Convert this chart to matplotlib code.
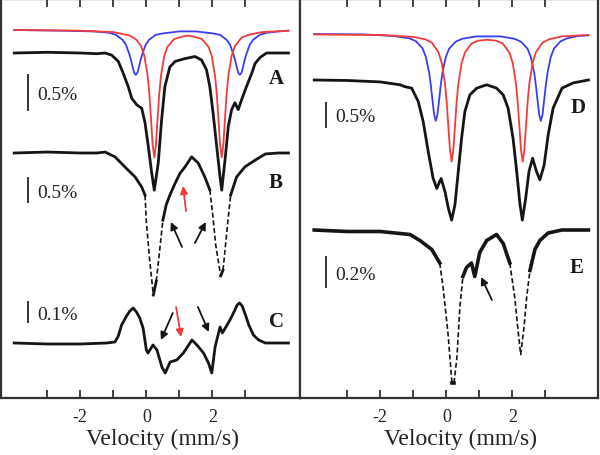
import numpy as np
import matplotlib.pyplot as plt

plt.rcParams['font.family'] = ['Liberation Serif', 'DejaVu Serif']
plt.rcParams['axes.unicode_minus'] = False

# ---- data (absorption in %) ----
# left panel fits
LF_RED_V = [-4.0, -2.0, -1.0, -0.5, -0.3, -0.16, -0.06, 0.04, 0.09, 0.14, 0.19, 0.24, 0.29, 0.34,
            0.39, 0.44, 0.54, 0.64, 0.84, 1.04, 1.26, 1.48, 1.68, 1.88, 1.98, 2.08, 2.13, 2.18,
            2.23, 2.28, 2.33, 2.38, 2.43, 2.48, 2.58, 2.68, 2.88, 3.08, 3.5, 4.3]
LF_RED = [0.0, -0.01, -0.03, -0.08, -0.14, -0.23, -0.37, -0.66, -0.91, -1.26, -1.64, -1.82, -1.64,
          -1.26, -0.91, -0.66, -0.37, -0.24, -0.13, -0.10, -0.08, -0.10, -0.13, -0.24, -0.37,
          -0.66, -0.91, -1.26, -1.64, -1.82, -1.64, -1.26, -0.91, -0.66, -0.37, -0.23, -0.11,
          -0.07, -0.03, -0.01]
LF_BLUE_V = [-4.0, -2.5, -1.6, -1.12, -0.92, -0.72, -0.62, -0.52, -0.47, -0.42, -0.37, -0.32, -0.27,
             -0.22, -0.17, -0.12, -0.02, 0.08, 0.28, 0.48, 1.0, 1.26, 1.5, 2.03, 2.23, 2.43, 2.53,
             2.63, 2.68, 2.73, 2.78, 2.83, 2.88, 2.93, 2.98, 3.03, 3.13, 3.23, 3.43, 3.63, 4.0, 4.3]
LF_BLUE = [0.0, -0.01, -0.02, -0.04, -0.07, -0.14, -0.21, -0.34, -0.42, -0.52, -0.61, -0.64, -0.61,
           -0.52, -0.42, -0.34, -0.21, -0.14, -0.07, -0.05, -0.02, -0.02, -0.02, -0.05, -0.07,
           -0.14, -0.21, -0.34, -0.42, -0.52, -0.61, -0.64, -0.61, -0.52, -0.42, -0.34, -0.21,
           -0.14, -0.07, -0.04, -0.02, -0.01]

# right panel fits
RF_RED_V = [-4.0, -2.0, -1.0, -0.64, -0.44, -0.24, -0.14, -0.04, 0.01, 0.06, 0.11, 0.16, 0.21, 0.26,
            0.31, 0.36, 0.46, 0.56, 0.76, 0.96, 1.235, 1.51, 1.71, 1.91, 2.01, 2.11, 2.16, 2.21,
            2.26, 2.31, 2.36, 2.41, 2.46, 2.51, 2.61, 2.71, 2.91, 3.11, 3.5, 4.3]
RF_RED = [-0.01, -0.02, -0.06, -0.11, -0.18, -0.38, -0.60, -1.04, -1.42, -1.92, -2.42, -2.66, -2.42,
          -1.92, -1.42, -1.05, -0.61, -0.39, -0.20, -0.14, -0.12, -0.14, -0.20, -0.39, -0.61,
          -1.05, -1.42, -1.92, -2.42, -2.66, -2.42, -1.92, -1.42, -1.04, -0.60, -0.38, -0.18,
          -0.11, -0.05, -0.02]
RF_BLUE_V = [-4.0, -2.5, -1.6, -1.12, -0.92, -0.72, -0.62, -0.52, -0.47, -0.42, -0.37, -0.32, -0.27,
             -0.22, -0.17, -0.12, -0.02, 0.08, 0.28, 0.48, 0.9, 1.27, 1.64, 2.06, 2.26, 2.46, 2.56,
             2.66, 2.71, 2.76, 2.81, 2.86, 2.91, 2.96, 3.01, 3.06, 3.16, 3.26, 3.46, 3.66, 4.0, 4.3]
RF_BLUE = [0.0, -0.01, -0.04, -0.09, -0.15, -0.30, -0.48, -0.81, -1.07, -1.38, -1.68, -1.81, -1.68,
           -1.38, -1.07, -0.81, -0.49, -0.31, -0.16, -0.10, -0.05, -0.05, -0.05, -0.10, -0.16,
           -0.31, -0.49, -0.81, -1.07, -1.38, -1.68, -1.81, -1.68, -1.38, -1.07, -0.81, -0.48,
           -0.30, -0.15, -0.09, -0.04, -0.03]

# spectra
A_V = [-4.0, -3.0, -2.0, -1.5, -1.25, -1.05, -0.85, -0.70, -0.55, -0.44, -0.29, -0.14, -0.04, 0.06,
       0.16, 0.24, 0.36, 0.46, 0.56, 0.71, 0.87, 1.17, 1.47, 1.67, 1.82, 1.92, 2.02, 2.13, 2.23,
       2.28, 2.38, 2.48, 2.58, 2.68, 2.78, 2.88, 3.03, 3.19, 3.29, 3.45, 3.64, 4.0, 4.3]
A_T = [0.0, 0.01, 0.0, -0.01, 0.0, -0.03, -0.12, -0.29, -0.48, -0.65, -0.74, -0.79, -1.00, -1.34,
       -1.71, -1.96, -1.57, -0.96, -0.48, -0.20, -0.12, -0.08, -0.05, -0.10, -0.24, -0.48, -0.86,
       -1.34, -1.77, -1.96, -1.53, -1.05, -0.81, -0.71, -0.81, -0.67, -0.48, -0.29, -0.15, -0.06,
       0.0, 0.0, 0.0]

B_V = [-4.0, -3.0, -2.0, -1.5, -1.25, -0.95, -0.65, -0.34, -0.14, -0.04, 0.0, 0.1, 0.21, 0.3, 0.4,
       0.5, 0.6, 0.71, 0.87, 1.02, 1.17, 1.37, 1.57, 1.77, 1.92, 2.0, 2.1, 2.25, 2.32, 2.47, 2.55,
       2.73, 2.98, 3.29, 3.6, 4.0, 4.3]
B_T = [0.0, 0.02, 0.0, 0.0, 0.02, -0.08, -0.29, -0.50, -0.71, -0.88, -1.44, -2.23, -2.96, -2.67,
       -2.04, -1.40, -1.08, -0.88, -0.63, -0.42, -0.29, -0.08, -0.21, -0.50, -0.77, -1.23, -1.92,
       -2.56, -2.44, -1.40, -0.88, -0.50, -0.29, -0.15, -0.02, 0.0, 0.0]

C_V = [-4.0, -3.0, -2.0, -1.2, -0.95, -0.85, -0.75, -0.6, -0.5, -0.4, -0.3, -0.2, -0.1, 0.0, 0.05,
       0.2, 0.32, 0.47, 0.57, 0.72, 0.92, 1.12, 1.38, 1.53, 1.73, 1.88, 1.98, 2.08, 2.23, 2.3,
       2.53, 2.65, 2.75, 2.82, 2.9, 3.0, 3.1, 3.24, 3.4, 3.6, 4.3]
C_T = [0.0, -0.005, -0.005, 0.0, 0.005, 0.035, 0.09, 0.135, 0.16, 0.175, 0.155, 0.125, 0.075,
       -0.035, -0.05, -0.01, -0.035, -0.12, -0.15, -0.095, -0.085, -0.05, 0.015, -0.01, -0.05,
       -0.10, -0.15, -0.02, 0.08, 0.05, 0.115, 0.155, 0.19, 0.20, 0.185, 0.14, 0.09, 0.04, 0.015,
       0.0, 0.0]

D_V = [-4.0, -3.0, -2.0, -1.4, -1.25, -1.05, -0.85, -0.70, -0.55, -0.40, -0.29, -0.16, -0.04, 0.06,
       0.16, 0.26, 0.36, 0.46, 0.56, 0.71, 0.92, 1.22, 1.52, 1.72, 1.87, 2.02, 2.13, 2.23, 2.30,
       2.40, 2.50, 2.61, 2.73, 2.83, 2.96, 3.08, 3.23, 3.5, 3.84, 4.3]
D_T = [0.0, -0.01, -0.04, -0.10, -0.14, -0.17, -0.45, -0.87, -1.49, -2.05, -2.26, -2.05, -2.33,
       -2.67, -2.92, -2.60, -1.91, -1.22, -0.66, -0.31, -0.17, -0.10, -0.17, -0.31, -0.59, -1.22,
       -1.91, -2.60, -2.92, -2.47, -1.91, -1.63, -1.91, -2.08, -1.77, -1.15, -0.59, -0.17, -0.06,
       0.0]

E_V = [-4.0, -3.0, -2.0, -1.1, -0.8, -0.44, -0.2, -0.1, 0.05, 0.17, 0.23, 0.32, 0.41, 0.5, 0.61,
       0.76, 0.86, 1.01, 1.22, 1.52, 1.72, 1.92, 2.07, 2.17, 2.25, 2.35, 2.43, 2.53, 2.68, 2.83,
       3.08, 3.5, 4.3]
E_T = [0.0, -0.01, -0.01, -0.03, -0.07, -0.13, -0.22, -0.38, -0.69, -1.02, -1.02, -0.85, -0.51,
       -0.31, -0.25, -0.22, -0.31, -0.15, -0.07, -0.03, -0.09, -0.22, -0.45, -0.67, -0.83, -0.65,
       -0.45, -0.27, -0.13, -0.07, -0.02, 0.0, 0.0]

TICKS = [-3, -2, -1, 0, 1, 2, 3]
TICK_LABELS = ['', '-2', '', '0', '', '2', '']

BLACK = '#151515'
RED = '#f03c3c'
BLUE = '#3c3cf0'


def draw_trace(ax, v, t, offset, scale, color=BLACK, lw=2.0, steep=None):
    v = np.asarray(v, float)
    y = offset + scale * np.asarray(t, float)
    if steep is None:
        ax.plot(v, y, color=color, lw=lw, solid_joinstyle='round')
        return
    # steep parts look dashed in the original (sparse points)
    pts = ax.transData.transform(np.column_stack([v, y]))
    d = np.diff(pts, axis=0)
    flag = np.abs(d[:, 1]) > steep * np.abs(d[:, 0])
    start = 0
    for i in range(1, len(flag) + 1):
        if i == len(flag) or flag[i] != flag[start]:
            seg = slice(start, i + 1)
            if flag[start]:
                ax.plot(v[seg], y[seg], color=color, lw=1.2, ls=(0, (3, 1.6)))
            else:
                ax.plot(v[seg], y[seg], color=color, lw=lw, solid_joinstyle='round')
            start = i


def scale_bar(ax, x, yc, length, label):
    ax.plot([x, x], [yc - length / 2, yc + length / 2], color='#333333', lw=1.4)
    ax.text(x + 0.27, yc - 3, label, fontsize=14, ha='left', va='center', color='#222222')


def arrow(ax, tail, head, color=BLACK):
    ax.annotate('', xy=head, xytext=tail,
                arrowprops=dict(arrowstyle='-|>', color=color, lw=1.3,
                                mutation_scale=11, shrinkA=0, shrinkB=0))


fig = plt.figure(figsize=(6.0, 4.55), dpi=100)
axL = fig.add_axes([1 / 600, 57 / 455, 299 / 600, 399 / 455])
axR = fig.add_axes([300 / 600, 57 / 455, 298 / 600, 399 / 455])
axL.set_xlim(-4.40, 4.65)
axR.set_xlim(-4.43, 4.59)

for ax in (axL, axR):
    ax.set_ylim(0, 399)
    ax.set_yticks([])
    ax.set_xticks(TICKS)
    ax.set_xticklabels(TICK_LABELS)
    ax.tick_params(axis='x', direction='in', top=True, length=6, width=1.2,
                   pad=8, labelsize=13, colors='#222222')
    for s in ax.spines.values():
        s.set_linewidth(1.6)
        s.set_color('#333333')
    ax.set_xlabel('Velocity (mm/s)', fontsize=17, color='#222222')
    ax.xaxis.set_label_coords(0.54, -0.078)
    ax.xaxis.label.set_va('top')

# left panel
draw_trace(axL, A_V, A_T, 345, 70)
draw_trace(axL, B_V, B_T, 245, 48, steep=5)
draw_trace(axL, C_V, C_T, 55, 200)
axL.plot(LF_BLUE_V, 368 + 70 * np.asarray(LF_BLUE), color=BLUE, lw=1.3)
axL.plot(LF_RED_V, 368 + 70 * np.asarray(LF_RED), color=RED, lw=1.3)

scale_bar(axL, -3.58, 305.5, 0.5 * 70, '0.5%')
scale_bar(axL, -3.58, 208, 0.5 * 48, '0.5%')
scale_bar(axL, -3.58, 86, 0.1 * 200, '0.1%')

for lab, x, y in (('A', 3.92, 319), ('B', 3.92, 215), ('C', 3.95, 76)):
    axL.text(x, y, lab, fontsize=15, fontweight='bold', ha='center', va='center', color='#1a1a1a')

arrow(axL, (1.08, 151), (0.74, 176))
arrow(axL, (1.47, 155), (1.80, 176))
arrow(axL, (1.20, 187), (1.11, 212), RED)
arrow(axL, (0.80, 85), (0.44, 58))
arrow(axL, (0.90, 91), (1.05, 61), RED)
arrow(axL, (1.56, 91), (1.89, 66))

# right panel
draw_trace(axR, D_V, D_T, 318, 48)
draw_trace(axR, E_V, E_T, 168, 150, lw=2.6, steep=5)
axR.plot(RF_BLUE_V, 364 + 48 * np.asarray(RF_BLUE), color=BLUE, lw=1.3)
axR.plot(RF_RED_V, 364 + 48 * np.asarray(RF_RED), color=RED, lw=1.3)

scale_bar(axR, -3.64, 283, 0.5 * 48, '0.5%')
scale_bar(axR, -3.64, 126, 0.2 * 150, '0.2%')

for lab, x, y in (('D', 3.98, 290), ('E', 3.95, 130)):
    axR.text(x, y, lab, fontsize=15, fontweight='bold', ha='center', va='center', color='#1a1a1a')

arrow(axR, (1.38, 98), (1.05, 121))

fig.savefig('out.png', dpi=100)
